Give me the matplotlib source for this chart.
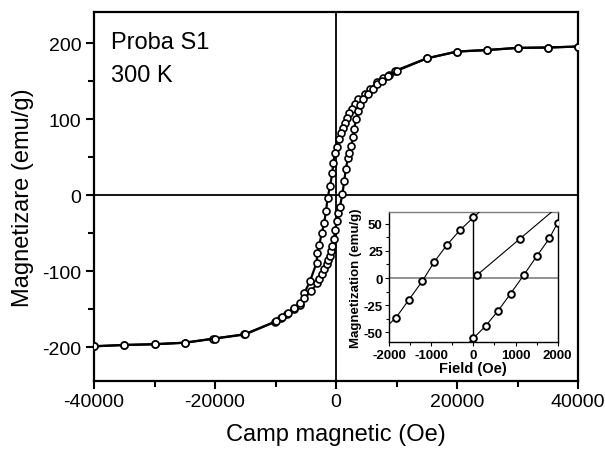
import matplotlib
matplotlib.use("Agg")
import matplotlib.pyplot as plt
from matplotlib.ticker import MultipleLocator

plt.rcParams["font.family"] = ["Liberation Sans", "DejaVu Sans"]
plt.rcParams["axes.unicode_minus"] = False

# main loop, field decreasing (upper branch)
h_down = [40000, 35000, 30000, 25000, 20000, 15000, 9750, 8810, 7820, 6830, 5620, 4790,
          3690, 3140, 2590, 2200, 1870, 1490, 1100, 770, 440, 110, -220, -440, -610,
          -990, -1400, -1650, -1980, -2360, -2760, -3090, -3200, -4300, -5240, -5950,
          -6940, -8050, -9090, -10080, -15160, -20280, -25000, -30000, -35000, -40000]
m_down = [195.6, 194.3, 193.8, 191, 189, 180, 163.6, 158.8, 154, 149, 139.5, 133,
          126, 120.6, 114, 108.8, 102, 95.6, 89, 82.5, 73.7, 63.6, 55, 43, 29,
          12, -4, -21, -37, -50, -65, -76, -88.6, -113, -129, -144,
          -150, -156.6, -161, -166.7, -183, -188.6, -194, -196, -197, -198.7]

# main loop, field increasing (lower branch)
h_up = [-40000, -35000, -30000, -25000, -20000, -15000, -10000, -9000, -8000, -7000,
        -6000, -5240, -4130, -3090, -2760, -2360, -1980, -1540, -1270, -990, -770,
        -610, -380, -110, 110, 330, 660, 1040, 1380, 1600, 2040, 2200, 2480, 2860,
        2980, 3310, 3690, 4000, 4510, 5340, 6060, 6720, 7550, 8650, 10030, 15000,
        20000, 25000, 30000, 35000, 40000]
m_up = [-198.7, -197, -196, -194, -188.6, -183, -166, -160, -155, -149,
        -142, -135.5, -126, -116, -109.6, -103, -97, -91, -85.5, -80, -74,
        -66.7, -58, -45.6, -33.8, -22.8, -15, 1.3, 19, 35, 49.6, 55, 65, 76,
        86.8, 100, 110.5, 118.4, 126, 133.8, 140, 146, 150, 157, 163.6, 180,
        189, 191, 193.8, 194.3, 195.6]

# inset (low field detail)
h_in_left = [-2130, -1840, -1530, -1214, -929, -626, -317, 0, 320]
m_in_left = [-47, -36.7, -20, -3, 14.7, 30.5, 44, 55.7, 67]
h_in_right = [-300, 0, 295, 588, 881, 1200, 1510, 1802, 2000]
m_in_right = [-67, -55.3, -43.8, -30, -14.4, 3, 20.5, 36.4, 51]
h_in_virgin = [95, 1095, 2200]
m_in_virgin = [3, 35.8, 72]

fig = plt.figure(figsize=(6.05, 4.52), dpi=100)
ax = fig.add_axes([0.1554, 0.1555, 0.80, 0.8157])

ax.axhline(0, color="black", lw=1.3, zorder=1)
ax.axvline(0, color="black", lw=1.3, zorder=1)

mk = dict(color="black", lw=1.6, marker="o", ms=5.0, mfc="white", mec="black", mew=1.2)
ax.plot(h_down, m_down, zorder=3, **mk)
ax.plot(h_up, m_up, zorder=3, **mk)

ax.set_xlim(-40000, 40000)
ax.set_ylim(-244, 241)
ax.xaxis.set_major_locator(MultipleLocator(20000))
ax.xaxis.set_minor_locator(MultipleLocator(10000))
ax.yaxis.set_major_locator(MultipleLocator(100))
ax.yaxis.set_minor_locator(MultipleLocator(50))
ax.tick_params(which="major", length=6, width=1.5, labelsize=14, pad=3)
ax.tick_params(which="minor", length=4, width=1.5)
for s in ax.spines.values():
    s.set_linewidth(1.6)

ax.set_xlabel("Camp magnetic (Oe)", fontsize=17)
ax.set_ylabel("Magnetizare (emu/g)", fontsize=17)
ax.xaxis.set_label_coords(0.5, -0.115)
ax.yaxis.set_label_coords(-0.125, 0.5)

ax.text(0.035, 0.918, "Proba S1", transform=ax.transAxes, fontsize=17, ha="left", va="center")
ax.text(0.035, 0.829, "300 K", transform=ax.transAxes, fontsize=17, ha="left", va="center")

# inset
ins = fig.add_axes([0.643, 0.2405, 0.2788, 0.289])
ins.axhline(0, color="#7f7f7f", lw=1.2, zorder=1)
ins.axvline(0, color="black", lw=1.0, zorder=1)
mk_in = dict(color="black", lw=0.8, marker="o", ms=4.8, mfc="white", mec="black", mew=1.4)
ins.plot(h_in_left, m_in_left, zorder=3, **mk_in)
ins.plot(h_in_right, m_in_right, zorder=3, **mk_in)
ins.plot(h_in_virgin, m_in_virgin, zorder=3, **mk_in)
ins.set_xlim(-2000, 2000)
ins.set_ylim(-59, 61)
ins.xaxis.set_major_locator(MultipleLocator(1000))
ins.xaxis.set_minor_locator(MultipleLocator(500))
ins.yaxis.set_major_locator(MultipleLocator(25))
ins.yaxis.set_minor_locator(MultipleLocator(12.5))
ins.tick_params(which="major", length=3, width=0.8, labelsize=9.5, pad=1.5)
ins.tick_params(which="minor", length=2, width=0.8)
for lab in ins.get_xticklabels() + ins.get_yticklabels():
    lab.set_fontweight("bold")
for s in ins.spines.values():
    s.set_linewidth(1.0)
ins.spines["top"].set_color("#7f7f7f")
ins.set_xlabel("Field (Oe)", fontsize=10.5, fontweight="bold", labelpad=0)
ins.set_ylabel("Magnetization (emu/g)", fontsize=9.5, fontweight="bold", labelpad=1)

fig.savefig("out.png", dpi=100)
